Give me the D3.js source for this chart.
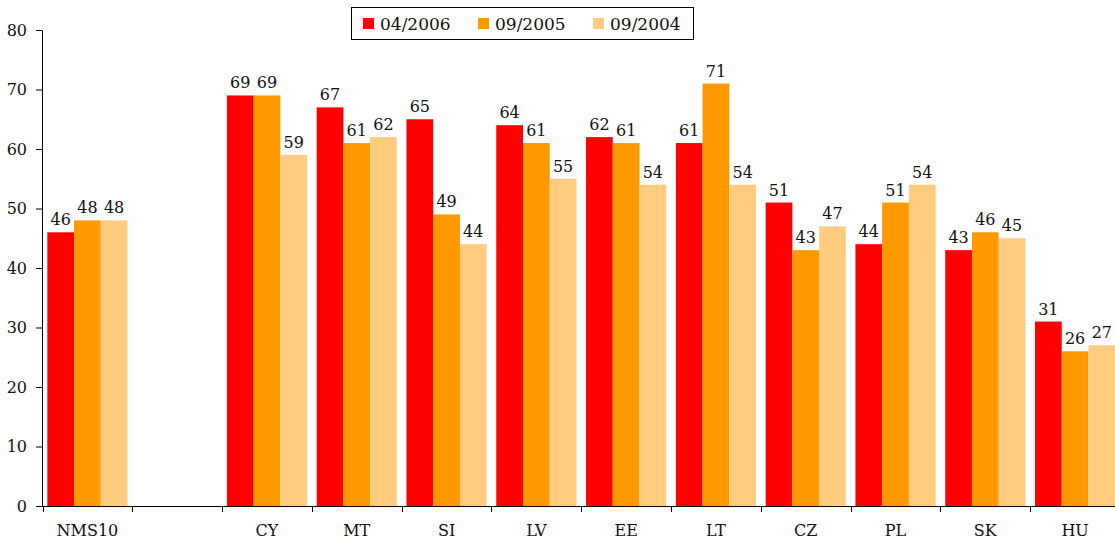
<!DOCTYPE html>
<html><head><meta charset="utf-8">
<script src="https://cdn.jsdelivr.net/npm/d3@7"></script>
<style>body{margin:0;background:#fff}svg{display:block}text{font-family:"DejaVu Serif",serif;fill:#111}</style>
</head><body><svg id="c" width="1115" height="542"></svg>
<script>
const categories = ["NMS10", "", "CY", "MT", "SI", "LV", "EE", "LT", "CZ", "PL", "SK", "HU"];
const seriesNames = ["04/2006", "09/2005", "09/2004"];
const s2006 = [46, null, 69, 67, 65, 64, 62, 61, 51, 44, 43, 31];
const s2005 = [48, null, 69, 61, 49, 61, 61, 71, 43, 51, 46, 26];
const s2004 = [48, null, 59, 62, 44, 55, 54, 54, 47, 54, 45, 27];
const colors = ["#ff0000", "#ff9900", "#ffcc80"];
const yTicks = [0, 10, 20, 30, 40, 50, 60, 70, 80];

(function () {
const svg = d3.select("#c");
const mLeft = 42.5, mRight = 1120, visRight = 1115, mTop = 30, mBottom = 506;
const keys = categories.map((c, i) => "k" + i);
const x = d3.scaleBand().domain(keys).range([mLeft, mRight]).paddingInner(0).paddingOuter(0);
const x1 = d3.scaleBand().domain([0, 1, 2]).range([0, x.bandwidth()]).paddingInner(0).paddingOuter(0.18);
const y = d3.scaleLinear().domain([0, 80]).range([mBottom, mTop]);
const series = [s2006, s2005, s2004];

series.forEach((vals, si) => {
  const g = svg.append("g");
  vals.forEach((v, i) => {
    if (v == null) return;
    g.append("rect").attr("x", x(keys[i]) + x1(si)).attr("y", y(v))
      .attr("width", x1.bandwidth()).attr("height", y(0) - y(v)).attr("fill", colors[si]);
  });
});
series.forEach((vals, si) => {
  vals.forEach((v, i) => {
    if (v == null) return;
    svg.append("text").attr("x", x(keys[i]) + x1(si) + x1.bandwidth() / 2).attr("y", y(v) - 7)
      .attr("text-anchor", "middle").attr("font-size", 16).text(v);
  });
});

const ya = svg.append("g").attr("transform", `translate(${mLeft - 0.5},0)`)
  .call(d3.axisLeft(y).tickValues(yTicks).tickSize(6).tickPadding(9).tickSizeOuter(0));
ya.selectAll("text").attr("font-size", 16).style("font-family", '"DejaVu Serif",serif');
ya.selectAll("path,line").attr("stroke", "#000");

const xa = svg.append("g").attr("transform", `translate(0,${mBottom})`)
  .call(d3.axisBottom(x).tickFormat((d, i) => categories[i]).tickSize(0).tickPadding(19).tickSizeOuter(0));
xa.selectAll("text").attr("font-size", 16).style("font-family", '"DejaVu Serif",serif');
xa.select("path").attr("stroke", "#000").attr("d", `M${mLeft - 0.5},0.5H${visRight}`);
const bounds = keys.map(k => x(k));
xa.selectAll(".bt").data(bounds).enter().append("line").attr("class", "bt")
  .attr("x1", d => Math.round(d) + 0.5).attr("x2", d => Math.round(d) + 0.5).attr("y1", 0).attr("y2", 6).attr("stroke", "#000");

const lg = svg.append("g").attr("transform", "translate(351,7)");
lg.append("rect").attr("x", 0.5).attr("y", 0.5).attr("width", 342).attr("height", 32).attr("fill", "#fff").attr("stroke", "#000");
const lx = [12, 127, 242];
seriesNames.forEach((n, i) => {
  lg.append("rect").attr("x", lx[i]).attr("y", 11).attr("width", 11).attr("height", 11).attr("fill", colors[i]);
  lg.append("text").attr("x", lx[i] + 17).attr("y", 23).attr("font-size", 17).text(n);
});
})();
</script></body></html>
